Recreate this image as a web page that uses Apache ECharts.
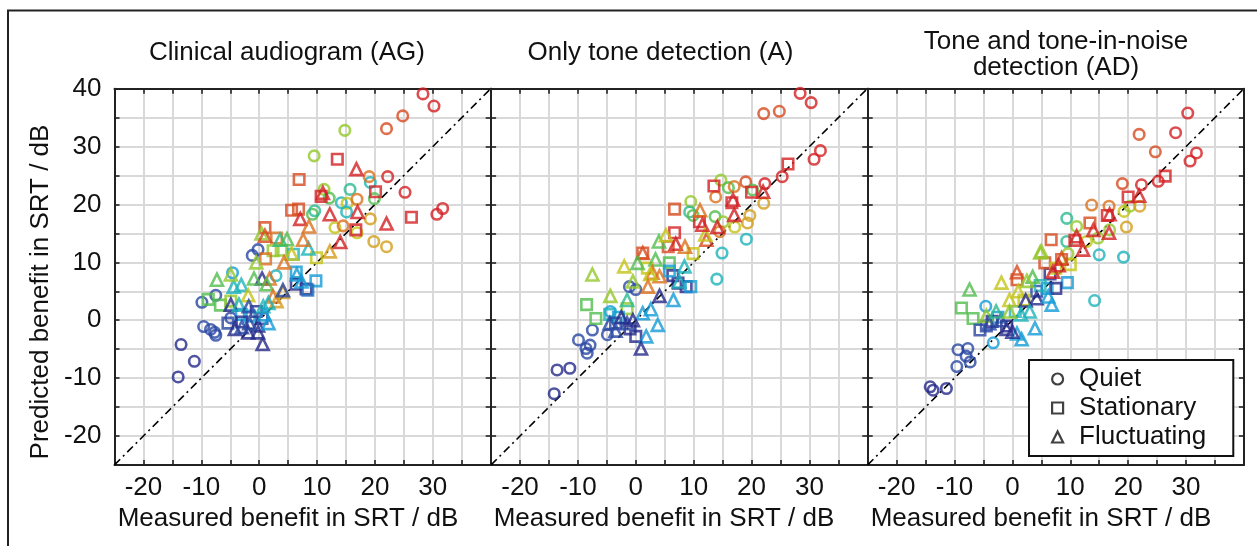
<!DOCTYPE html>
<html>
<head>
<meta charset="utf-8">
<script src="https://cdn.jsdelivr.net/npm/echarts@6/dist/echarts.min.js"></script>
<style>
  html, body { margin: 0; padding: 0; background: #fff; }
  #chart { width: 1257px; height: 546px; }
</style>
</head>
<body>
<div id="chart"></div>
<script>
// Each point: [measured benefit (dB), predicted benefit (dB), listener colour level 1..13]

// Clinical audiogram (AG)
const quietAG = [
  [-14.0,-9.8,1],[-13.5,-4.2,1],[-11.2,-7.1,1],
  [-9.9,3.1,2],[-7.5,4.3,2],[-9.6,-1.1,2],[-8.4,-1.6,2],[-7.7,-2.1,2],[-7.5,-2.6,2],
  [-4.9,0.4,2],[-0.2,12.2,2],[-1.2,11.2,2],[-4.6,8.2,4],[2.9,7.7,5],
  [9.2,18.3,7],[9.6,18.9,6],[9.5,28.4,8],[14.8,32.8,8],
  [11.2,22.6,8],[12.1,21.1,7],[15.7,22.6,6],[14.2,20.3,5],[15.2,20.2,9],[16.9,20.9,11],[15.1,18.7,5],
  [19.2,23.8,5],[19.9,21.0,7],[19.0,24.8,11],[22.2,24.8,13],[25.2,22.1,13],
  [13.1,16.0,9],[14.5,16.3,11],[16.9,15.1,9],[19.2,17.5,10],[19.8,13.6,10],[22.0,12.7,10],
  [22.0,33.1,12],[24.8,35.3,12],[28.3,39.1,13],[30.2,37.0,13],[30.7,18.3,13],[31.7,19.3,13]
];
const stationaryAG = [
  [-8.8,3.6,7],[-6.7,2.6,7],[-5.4,-0.5,2],[-3.1,1.0,4],[-1.7,0.7,4],[-4.9,3.3,8],[-3.0,-0.3,1],[-0.5,1.5,1],[0.5,0.3,2],
  [1.0,16.0,12],[3.0,14.2,11],[2.4,12.0,8],[3.8,12.1,8],[5.9,11.4,5],[1.1,10.6,11],[9.9,10.8,9],
  [6.4,8.3,4],[6.4,6.2,1],[8.1,5.4,1],[9.8,6.8,4],[8.4,5.2,3],
  [5.6,19.0,12],[6.8,19.2,12],[6.9,24.3,12],[13.5,27.8,13],[10.7,21.4,13],[20.1,22.2,13],[16.7,15.6,13],[26.3,17.8,13]
];
const fluctuatingAG = [
  [0.4,15.0,8],[1.0,14.6,12],[3.6,13.9,6],[4.8,14.0,7],[5.6,11.5,9],[8.5,12.4,5],[4.3,10.0,11],[7.6,13.9,11],[-0.5,10.0,8],
  [7.3,6.7,4],[6.5,7.9,4],[0.5,7.2,1],[1.8,7.2,11],[-0.9,7.2,7],[-3.1,6.1,5],[-4.4,5.8,5],[-4.9,7.9,8],[-7.3,7.0,7],[1.3,6.2,7],
  [-1.9,4.3,9],[4.1,4.9,10],[2.4,4.1,11],[3.0,3.3,10],[4.1,5.2,2],[-4.9,2.7,1],[-3.5,2.7,5],[-1.8,2.4,2],[0.7,2.4,5],[1.6,3.0,5],
  [-4.2,-1.5,1],[-1.9,-2.1,1],[-0.2,-0.9,1],[-0.2,-2.1,1],[0.6,-4.1,1],[1.6,-0.5,4],[-3.0,-1.2,2],[-1.7,-0.5,2],[0.9,1.0,4],
  [7.1,17.5,13],[8.6,16.2,11],[12.2,11.9,10],[14.0,13.5,13],[12.2,18.3,13],[11.0,22.0,13],[16.8,26.1,13],[17.0,18.7,13],[22.0,16.7,13]
];

// Only tone detection (A)
const quietA = [
  [-14.1,-12.7,1],[-13.6,-8.6,1],[-11.4,-8.3,1],
  [-9.9,-3.4,2],[-7.9,-4.3,2],[-8.4,-5.7,2],[-8.6,-4.9,2],[-7.5,-1.7,2],[-4.9,-2.5,2],[-1.1,5.8,2],[0.0,5.3,2],[-4.4,1.5,4],
  [14.0,7.1,5],[14.9,11.6,5],[19.1,14.0,5],
  [9.5,20.5,8],[9.3,18.7,6],[9.9,18.1,7],[14.7,24.2,8],[16.0,22.9,7],[17.0,23.1,11],[13.8,21.3,11],[19.0,23.9,12],[22.3,23.6,13],[20.2,22.5,7],[22.1,20.2,10],
  [13.7,17.9,7],[15.1,17.0,8],[19.7,18.1,10],[19.3,16.8,10],[17.1,16.1,9],[14.5,15.3,11],
  [22.1,35.7,12],[24.8,36.1,12],[28.4,39.2,13],[30.3,37.6,13],[31.9,29.3,13],[30.8,27.8,13],[25.3,24.8,13]
];
const stationaryA = [
  [-8.5,2.7,7],[-6.9,0.3,7],[-4.5,1.0,5],[-1.5,2.0,8],[-3.0,0.5,4],[-1.0,-1.5,1],[0.0,-2.8,1],[-3.5,-0.5,2],
  [1.2,11.6,12],[2.0,9.0,9],[5.8,9.9,7],[6.4,7.7,1],[7.3,6.4,1],[8.7,5.8,1],[5.8,8.5,4],[9.5,5.8,4],[9.9,11.5,9],
  [5.6,12.7,12],[6.7,15.1,13],[6.7,19.2,12],[11.0,17.0,13],[13.5,23.2,13],[16.6,20.3,13],[20.0,22.1,13],[26.3,27.0,13]
];
const fluctuatingA = [
  [1.2,11.6,12],[4.0,13.6,7],[-7.5,7.9,8],[-2.0,9.3,9],[0.3,9.9,7],[3.4,10.5,7],[2.9,8.2,11],[4.1,7.6,11],[2.5,8.0,9],[8.4,9.3,5],
  [6.5,3.5,4],[7.5,6.7,5],[4.1,4.2,1],[2.1,5.8,11],[-0.5,6.7,8],[-4.4,4.2,8],[-1.5,3.5,6],
  [-4.5,-0.5,2],[-3.5,-1.8,2],[-1.5,-0.5,2],[1.2,1.2,4],[2.6,1.9,4],[3.8,-0.8,4],[1.8,-2.8,4],[0.9,-4.9,1],[-0.5,0.0,1],[-2.5,0.5,1],
  [5.2,14.7,9],[6.9,13.2,13],[8.5,12.7,11],[11.1,19.0,11],[12.2,13.9,12],[12.0,14.8,9],[14.1,16.1,13],[17.0,18.2,13],[16.8,20.8,13],[22.0,22.2,13],[11.5,16.5,13]
];

// Tone and tone-in-noise detection (AD)
const quietAD = [
  [-14.2,-11.5,1],[-13.7,-12.1,1],[-11.4,-11.8,1],
  [-9.4,-5.1,2],[-7.7,-4.9,2],[-8.0,-6.2,2],[-9.6,-8.0,2],[-7.3,-7.2,2],
  [-4.6,2.4,4],[-3.3,-3.9,4],
  [9.4,17.6,6],[9.4,13.6,6],[15.0,11.3,5],[19.2,10.9,5],[14.2,3.4,5],
  [13.7,19.9,11],[16.7,19.7,11],[19.3,18.8,9],[20.3,19.7,8],[22.0,19.7,10],[11.1,16.2,8],[16.8,15.6,8],[14.8,14.2,8],[19.7,16.1,10],[12.8,13.6,9],[9.6,11.5,8],
  [19.0,23.6,12],[22.3,23.4,13],[25.2,24.0,13],[24.7,29.1,12],[21.9,32.1,12],[28.2,32.4,13],[30.3,35.8,13],[31.8,28.9,13],[30.7,27.5,13]
];
const stationaryAD = [
  [-8.8,2.1,7],[-6.8,0.3,7],[-5.6,-1.7,2],[-4.5,-1.0,2],[-2.5,0.5,4],[-1.0,-1.0,1],[0.5,1.5,5],[-3.5,-0.2,1],
  [0.8,7.0,12],[4.2,5.0,2],[6.0,5.5,4],[9.5,6.5,4],[6.5,8.0,1],[7.5,5.5,1],[10.0,9.6,9],[8.5,10.5,12],[5.6,9.9,12],[7.5,9.0,9],[2.0,3.5,9],[4.8,6.0,5],
  [6.7,13.9,12],[10.8,13.8,13],[13.4,16.8,12],[16.4,18.1,13],[20.0,21.3,13],[26.4,24.9,13]
];
const fluctuatingAD = [
  [-7.4,5.3,7],[-1.9,6.5,9],[5.0,11.9,8],[0.8,8.3,12],[3.5,7.5,7],[2.5,6.8,8],[1.0,5.0,9],[-0.5,3.5,9],[2.3,3.4,1],[4.2,3.8,1],
  [3.9,-1.4,4],[1.6,-3.3,4],[0.8,-2.3,4],[6.2,4.1,4],[6.8,2.7,4],[-4.5,0.8,8],[-4.0,-0.5,2],[-2.0,0.0,2],[-1.0,-1.5,1],[0.0,-2.0,1],
  [-2.8,1.5,6],[1.5,1.0,5],[3.0,1.5,5],[-0.5,1.5,8],
  [4.8,11.7,8],[8.5,10.7,12],[7.0,8.4,13],[8.0,9.5,13],[11.1,14.5,13],[12.2,12.2,13],[14.0,15.6,13],[16.7,15.1,13],[16.8,18.3,13],[21.9,21.5,13]
];

const panelTitles = ['Clinical audiogram (AG)', 'Only tone detection (A)', 'Tone and tone-in-noise\ndetection (AD)'];
const conditions = ['Quiet', 'Stationary', 'Fluctuating'];
const panelData = [
  [quietAG, stationaryAG, fluctuatingAG],
  [quietA, stationaryA, fluctuatingA],
  [quietAD, stationaryAD, fluctuatingAD]
];
const axisMin = -25, axisMax = 40, axisStep = 5;
const xAxisName = 'Measured benefit in SRT / dB';
const yAxisName = 'Predicted benefit in SRT / dB';

// jet-like listener colour scale
const palette = ['#25298a', '#2947a2', '#226dbd', '#149bd6', '#1cb3ba', '#2cba8e', '#50bd4c',
                 '#93c82a', '#c4c418', '#d49d1c', '#db701c', '#d74b1f', '#d32024'];
const symbolOf = { Quiet: 'circle', Stationary: 'rect', Fluctuating: 'triangle' };
const sizeOf = { Quiet: 10.5, Stationary: 10.5, Fluctuating: 12 };

const FONT = '"Liberation Sans", Arial, Helvetica, sans-serif';
const INK = '#111';
const plotTop = 88.7, plotSize = 376.2, firstLeft = 114.5, panelStep = 376.6;

const grid = [], xAxis = [], yAxis = [], series = [];

function axisBase(gi, pos, showLabels, isX) {
  return {
    type: 'value', gridIndex: gi, position: pos,
    min: axisMin, max: axisMax, interval: axisStep,
    axisLine: { show: true, onZero: false, lineStyle: { color: '#222', width: 2 } },
    axisTick: { show: true, inside: true, length: 5, lineStyle: { color: '#222', width: 1.6 } },
    splitLine: { show: false },
    axisLabel: showLabels ? {
      show: true, color: INK, fontSize: 26, fontFamily: FONT, margin: isX ? 10 : 13,
      formatter: v => (v % 10 === 0 && (!isX || v < axisMax)) ? String(v) : ''
    } : { show: false }
  };
}

panelData.forEach((sets, i) => {
  grid.push({ left: firstLeft + i * panelStep, top: plotTop, width: plotSize, height: plotSize });

  const xb = axisBase(i, 'bottom', true, true);
  xb.splitLine = { show: true, lineStyle: { color: '#d9d9d9', width: 2 } };
  xAxis.push(xb, axisBase(i, 'top', false, true));

  const yl = axisBase(i, 'left', i === 0, false);
  yl.splitLine = { show: true, lineStyle: { color: '#d9d9d9', width: 2 } };
  yAxis.push(yl, axisBase(i, 'right', false, false));

  // identity line
  series.push({
    type: 'line', name: 'identity', xAxisIndex: 2 * i, yAxisIndex: 2 * i,
    data: [[axisMin, axisMin], [axisMax, axisMax]],
    showSymbol: false, silent: true, z: 1,
    lineStyle: { color: '#000', width: 1.6, type: [8, 4, 2, 4] }
  });

  sets.forEach((pts, c) => {
    const cond = conditions[c];
    series.push({
      type: 'scatter', name: cond, xAxisIndex: 2 * i, yAxisIndex: 2 * i,
      symbol: symbolOf[cond], symbolSize: sizeOf[cond], z: 3,
      itemStyle: { color: 'rgba(0,0,0,0)', borderWidth: 2.6 },
      emphasis: { disabled: true },
      data: pts.map(p => ({ value: [p[0], p[1]], itemStyle: { borderColor: palette[p[2] - 1], borderWidth: 2.6 } }))
    });
  });
});

const textStyle = { font: '26px ' + FONT, fill: INK, align: 'center', verticalAlign: 'middle' };
const titleX = [287, 660.5, 1056];
const nameX = [288, 664, 1041];

const graphic = [
  { type: 'rect', shape: { x: 8, y: 10.5, width: 1400, height: 700 }, style: { fill: 'none', stroke: '#222', lineWidth: 2 }, silent: true },
  { type: 'text', x: titleX[0], y: 53, style: Object.assign({ text: panelTitles[0] }, textStyle) },
  { type: 'text', x: titleX[1], y: 53, style: Object.assign({ text: panelTitles[1] }, textStyle) },
  { type: 'text', x: titleX[2], y: 55, style: Object.assign({ text: panelTitles[2], lineHeight: 26 }, textStyle) },
  { type: 'text', x: 41, y: 292, rotation: Math.PI / 2, style: Object.assign({ text: yAxisName }, textStyle) }
].concat(nameX.map(x => ({ type: 'text', x: x, y: 519, style: Object.assign({ text: xAxisName }, textStyle) })));

const chart = echarts.init(document.getElementById('chart'), null, { renderer: 'canvas' });
chart.setOption({
  animation: false,
  backgroundColor: '#fff',
  grid, xAxis, yAxis, series, graphic,
  legend: {
    data: conditions.map(c => ({
      name: c, icon: symbolOf[c],
      itemStyle: { color: 'rgba(0,0,0,0)', borderColor: INK, borderWidth: 2.2 }
    })),
    orient: 'vertical', left: 1029, top: 360,
    padding: [6, 27, 6, 22], itemGap: 3, itemWidth: 11, itemHeight: 11,
    backgroundColor: '#fff', borderColor: '#111', borderWidth: 2, borderRadius: 0,
    selectedMode: false,
    textStyle: { fontSize: 26, color: INK, fontFamily: FONT, padding: [0, 0, 0, 11] }
  }
});
</script>
</body>
</html>
